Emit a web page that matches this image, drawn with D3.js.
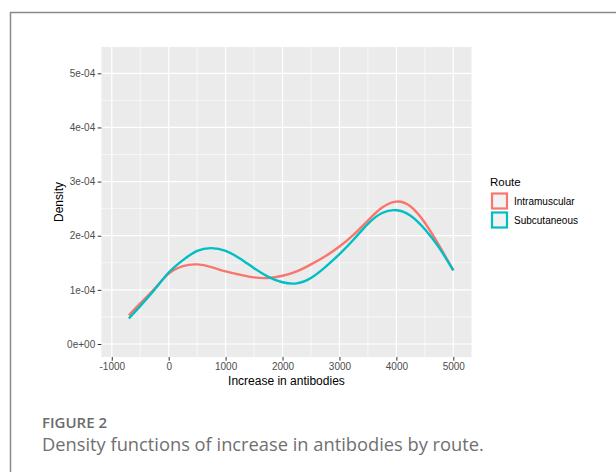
<!DOCTYPE html>
<html>
<head>
<meta charset="utf-8">
<script src="https://cdn.jsdelivr.net/npm/d3@7"></script>
<style>
  body { margin: 0; background: #fff; }
  svg { display: block; }
</style>
</head>
<body>
<div id="chart"></div>
<script>
// values (density in units of 1e-4)
var increase = [-700, -500, -250, 0, 250, 500, 750, 1000, 1250, 1500, 1750, 2000,
                2250, 2500, 2750, 3000, 3250, 3500, 3750, 4000, 4250, 4500, 4750, 5000];
var intramuscular = [0.53, 0.75, 1.02, 1.30, 1.44, 1.47, 1.42, 1.34, 1.28, 1.23, 1.22, 1.26,
                     1.34, 1.47, 1.62, 1.80, 2.02, 2.28, 2.52, 2.63, 2.54, 2.24, 1.82, 1.36];
var subcutaneous = [0.47, 0.70, 1.00, 1.32, 1.55, 1.72, 1.77, 1.72, 1.58, 1.40, 1.24, 1.14,
                    1.12, 1.22, 1.42, 1.66, 1.93, 2.22, 2.42, 2.47, 2.37, 2.12, 1.78, 1.36];
var routes = ["Intramuscular", "Subcutaneous"];
var colors = ["#F8766D", "#00BFC4"];
var xTicks = [-1000, 0, 1000, 2000, 3000, 4000, 5000];
var xMinor = [-500, 500, 1500, 2500, 3500, 4500];
var yTicks = [0, 1e-4, 2e-4, 3e-4, 4e-4, 5e-4];
var yTickLabels = ["0e+00", "1e-04", "2e-04", "3e-04", "4e-04", "5e-04"];
var yMinor = [0.5e-4, 1.5e-4, 2.5e-4, 3.5e-4, 4.5e-4];

var svg = d3.select("#chart").append("svg").attr("width", 616).attr("height", 472);

// outer frame
svg.append("rect")
    .attr("x", 10.5).attr("y", 12.5)
    .attr("width", 700).attr("height", 600)
    .style("fill", "#fff")
    .style("stroke", "#8a8a8a")
    .style("stroke-width", 1.5);

var panel = { left: 101.4, right: 471.5, top: 47, bottom: 357 };

var x = d3.scaleLinear().domain([0, 5000]).range([168.7, 453.3]);
var y = d3.scaleLinear().domain([0, 5e-4]).range([344, 73.3]);

svg.append("rect")
    .attr("x", panel.left).attr("y", panel.top)
    .attr("width", panel.right - panel.left)
    .attr("height", panel.bottom - panel.top)
    .style("fill", "#EBEBEB");

var grid = svg.append("g");
// minor grid
grid.selectAll(".xminor").data(xMinor).enter().append("line")
    .attr("x1", function (d) { return x(d); }).attr("x2", function (d) { return x(d); })
    .attr("y1", panel.top).attr("y2", panel.bottom)
    .style("stroke", "#fff").style("stroke-width", 0.6);
grid.selectAll(".yminor").data(yMinor).enter().append("line")
    .attr("y1", function (d) { return y(d); }).attr("y2", function (d) { return y(d); })
    .attr("x1", panel.left).attr("x2", panel.right)
    .style("stroke", "#fff").style("stroke-width", 0.6);
// major grid
grid.selectAll(".xmajor").data(xTicks).enter().append("line")
    .attr("x1", function (d) { return x(d); }).attr("x2", function (d) { return x(d); })
    .attr("y1", panel.top).attr("y2", panel.bottom)
    .style("stroke", "#fff").style("stroke-width", 1.2);
grid.selectAll(".ymajor").data(yTicks).enter().append("line")
    .attr("y1", function (d) { return y(d); }).attr("y2", function (d) { return y(d); })
    .attr("x1", panel.left).attr("x2", panel.right)
    .style("stroke", "#fff").style("stroke-width", 1.2);

// density curves
var series = [intramuscular, subcutaneous];
var line = d3.line()
    .x(function (d, i) { return x(increase[i]); })
    .y(function (d) { return y(d * 1e-4); })
    .curve(d3.curveNatural);

series.forEach(function (s, k) {
    svg.append("path")
        .datum(s)
        .attr("d", line)
        .style("fill", "none")
        .style("stroke", colors[k])
        .style("stroke-width", 2.4);
});

// axes
var x_axis = d3.axisBottom(x).tickValues(xTicks).tickSize(3.7).tickPadding(2.5)
    .tickFormat(d3.format("d"));
var y_axis = d3.axisLeft(y).tickValues(yTicks).tickSize(3.7).tickPadding(2.5)
    .tickFormat(function (d, i) { return yTickLabels[i]; });

var gx = svg.append("g")
    .attr("transform", "translate(0," + panel.bottom + ")")
    .call(x_axis);
var gy = svg.append("g")
    .attr("transform", "translate(" + panel.left + ",0)")
    .call(y_axis);

[gx, gy].forEach(function (g) {
    g.select(".domain").remove();
    g.selectAll(".tick line").style("stroke", "#333").style("stroke-width", 1);
    g.selectAll(".tick text")
        .style("fill", "#4D4D4D")
        .style("font-family", "'Liberation Sans', Arial, sans-serif")
        .style("font-size", "10px");
});
gx.selectAll(".tick text").text(function (d) { return d < 0 ? "-" + Math.abs(d) : d; });

// axis titles
svg.append("text")
    .attr("x", (panel.left + panel.right) / 2).attr("y", 385)
    .attr("text-anchor", "middle")
    .style("font-family", "'Liberation Sans', Arial, sans-serif")
    .style("font-size", "12px")
    .style("fill", "#000")
    .text("Increase in antibodies");

svg.append("text")
    .attr("transform", "translate(63," + ((panel.top + panel.bottom) / 2) + ")rotate(-90)")
    .attr("text-anchor", "middle")
    .style("font-family", "'Liberation Sans', Arial, sans-serif")
    .style("font-size", "12px")
    .style("fill", "#000")
    .text("Density");

// legend
var legend = svg.append("g").attr("transform", "translate(490,0)");
legend.append("text")
    .attr("x", 0).attr("y", 185.5)
    .style("font-family", "'Liberation Sans', Arial, sans-serif")
    .style("font-size", "11.5px")
    .text("Route");

routes.forEach(function (r, i) {
    var top = 193.5 + i * 19;
    legend.append("rect")
        .attr("x", 2).attr("y", top)
        .attr("width", 15).attr("height", 15)
        .style("fill", "#F2F2F2")
        .style("stroke", colors[i])
        .style("stroke-width", 2.2);
    legend.append("text")
        .attr("x", 24).attr("y", top + 8)
        .attr("dominant-baseline", "central")
        .style("font-family", "'Liberation Sans', Arial, sans-serif")
        .style("font-size", "10px")
        .style("fill", "#000")
        .text(r);
});

// caption
svg.append("text")
    .attr("x", 42).attr("y", 428)
    .style("font-family", "'Open Sans', sans-serif")
    .style("font-weight", 600)
    .style("font-size", "15px")
    .style("fill", "#6b6b6b")
    .text("FIGURE 2");
svg.append("text")
    .attr("x", 42).attr("y", 451)
    .style("font-family", "'Open Sans', sans-serif")
    .style("font-size", "18.3px")
    .style("fill", "#707070")
    .text("Density functions of increase in antibodies by route.");
</script>
</body>
</html>
